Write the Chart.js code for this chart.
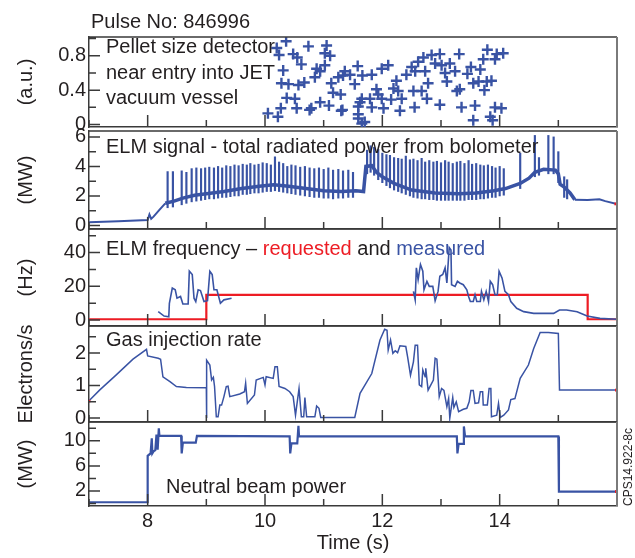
<!DOCTYPE html>
<html lang="en">
<head>
<meta charset="UTF-8">
<title>Pulse No: 846996</title>
<script src="https://cdn.jsdelivr.net/npm/chart.js"></script>
<style>
    body {
        margin: 0;
        background: #fff;
        font-family: 'Liberation Sans', Arial, Helvetica, sans-serif;
        color: #231f20;
    }
    #wrap {
        position: relative;
        width: 635px;
        height: 558px;
        overflow: hidden;
    }
    #wrap canvas {
        position: absolute;
        left: 0;
    }
    .txt {
        position: absolute;
        font-size: 20px;
        line-height: 24px;
        white-space: nowrap;
    }
</style>
</head>
<body>
<div id="wrap">
    <canvas id="c1" width="635" height="106" style="top:29px"></canvas>
    <canvas id="c2" width="635" height="106" style="top:127px"></canvas>
    <canvas id="c3" width="635" height="105" style="top:225px"></canvas>
    <canvas id="c4" width="635" height="104" style="top:322px"></canvas>
    <canvas id="c5" width="635" height="140" style="top:418px"></canvas>

    <div class="txt" style="left:91px;top:9px">Pulse No: 846996</div>
    <div class="txt" style="left:106px;top:34px;line-height:25.5px">Pellet size detector<br>near entry into JET<br>vacuum vessel</div>
    <div class="txt" style="left:106px;top:134px">ELM signal - total radiated power from bolometer</div>
    <div class="txt" style="left:106px;top:236px">ELM frequency – <span style="color:#ed1c24">requested</span> and <span style="color:#3953a4">measured</span></div>
    <div class="txt" style="left:106px;top:327px">Gas injection rate</div>
    <div class="txt" style="left:166px;top:474px">Neutral beam power</div>
    <div class="txt" style="left:628px;top:467px;font-size:12px;line-height:14px;transform:translate(-50%,-50%) rotate(-90deg)">CPS14.922-8c</div>
</div>

<script>
// ---- data ----
const xTickLabels = [8, 10, 12, 14];

const pelletT = [10.05, 10.22, 10.27, 10.37, 10.51, 10.54, 10.28, 10.40, 10.57, 10.67, 10.85, 10.88, 10.94, 11.02, 10.62, 10.48, 10.55, 10.36, 10.74, 11.05,
    11.02, 11.11, 10.20, 10.24, 10.31, 11.13, 11.16, 11.29, 10.79, 10.94, 11.09, 11.32, 11.25, 11.33, 11.36, 11.45, 11.53, 11.58, 11.66, 11.82,
    11.99, 12.10, 11.62, 11.59, 11.65, 11.79, 11.82, 11.59, 11.59, 11.70, 11.65, 11.90, 11.93, 11.99, 12.02, 12.15, 12.19, 12.27, 12.24, 12.33,
    12.30, 12.41, 12.50, 12.56, 12.61, 12.70, 12.73, 12.84, 12.98, 12.90, 12.53, 12.67, 12.76, 12.78, 12.55, 12.98, 13.01, 13.07, 13.10, 13.15,
    13.24, 13.31, 13.27, 13.32, 13.35, 13.45, 13.51, 13.55, 13.64, 13.67, 13.74, 13.78, 13.86, 13.72, 13.79, 13.95, 13.92, 13.58, 13.55, 13.84,
    13.88, 13.92, 14.03, 14.06, 10.76, 11.30];
const pelletSize = [0.13, 0.09, 0.19, 0.31, 0.30, 0.19, 0.48, 0.47, 0.46, 0.49, 0.55, 0.65, 0.62, 0.69, 0.70, 0.82, 0.78, 0.97, 0.91, 0.92,
    0.83, 0.80, 0.89, 0.81, 0.63, 0.48, 0.37, 0.35, 0.19, 0.26, 0.22, 0.17, 0.55, 0.57, 0.62, 0.58, 0.47, 0.68, 0.57, 0.58,
    0.65, 0.69, 0.26, 0.21, 0.30, 0.30, 0.20, 0.12, 0.07, 0.03, 0.01, 0.41, 0.35, 0.30, 0.19, 0.29, 0.42, 0.39, 0.51, 0.30,
    0.16, 0.58, 0.67, 0.62, 0.73, 0.78, 0.62, 0.81, 0.82, 0.71, 0.39, 0.39, 0.30, 0.48, 0.20, 0.23, 0.69, 0.60, 0.50, 0.71,
    0.62, 0.82, 0.39, 0.41, 0.20, 0.59, 0.67, 0.48, 0.50, 0.64, 0.40, 0.50, 0.51, 0.76, 0.87, 0.82, 0.76, 0.22, 0.05, 0.09,
    0.05, 0.20, 0.19, 0.83, 0.17, 0.16];

const elmBaseT = [7.00, 7.50, 8.00, 8.03, 8.06, 8.10, 8.20, 8.30, 8.45, 8.60, 8.80, 9.00, 9.30, 9.60, 9.90, 10.15, 10.40, 10.70, 11.00, 11.30,
    11.55, 11.68, 11.72, 11.82, 11.90, 12.00, 12.20, 12.50, 12.90, 13.30, 13.60, 13.90, 14.10, 14.35, 14.50, 14.60, 14.75, 14.95, 15.00, 15.03,
    15.10, 15.20, 15.28, 15.50, 15.70, 15.80, 16.00];
const elmBaseP = [0.22, 0.28, 0.37, 0.75, 0.45, 0.60, 1.05, 1.50, 1.65, 1.85, 2.05, 2.15, 2.30, 2.50, 2.65, 2.75, 2.65, 2.50, 2.35, 2.30,
    2.35, 2.30, 4.00, 4.05, 3.60, 3.30, 2.85, 2.40, 2.20, 2.15, 2.20, 2.35, 2.50, 2.85, 3.20, 3.60, 3.80, 3.75, 3.50, 2.80,
    2.60, 2.20, 1.75, 1.72, 1.78, 1.65, 1.45];

// ELM spikes: time, bottom and top of each burst
const elmSpikeT = [8.34, 8.43, 8.58, 8.66, 8.75, 8.83, 8.91, 8.98,
    9.05, 9.13, 9.20, 9.27, 9.34, 9.41, 9.48, 9.55, 9.62, 9.69, 9.75, 9.82, 9.89, 9.96,
    10.03, 10.10, 10.17, 10.24, 10.31, 10.38, 10.45, 10.52, 10.60, 10.68, 10.76, 10.84, 10.92, 11.00, 11.08, 11.16, 11.25, 11.33, 11.42, 11.50,
    11.74, 11.80, 11.86, 11.93,
    12.00, 12.07, 12.13, 12.20, 12.27, 12.33, 12.40, 12.47, 12.53, 12.60, 12.67, 12.73, 12.80, 12.87, 12.93,
    13.00, 13.07, 13.13, 13.20, 13.27, 13.33, 13.40, 13.47, 13.53, 13.60, 13.67, 13.73, 13.80, 13.87, 13.93,
    14.00, 14.07,
    14.35, 14.60, 14.67, 14.83, 14.92, 15.00, 15.10, 15.15];
const elmSpikeLo = [1.20, 1.25, 1.40, 1.50, 1.60, 1.65, 1.70, 1.75,
    1.80, 1.80, 1.85, 1.90, 1.90, 1.95, 2.00, 2.00, 2.10, 2.10, 2.15, 2.20, 2.20, 2.25,
    2.30, 2.30, 2.35, 2.30, 2.25, 2.20, 2.15, 2.10, 2.05, 2.00, 1.95, 1.90, 1.90, 1.85, 1.85, 1.80, 1.85, 1.85, 1.90, 1.90,
    3.50, 3.60, 3.40, 3.10,
    2.90, 2.70, 2.55, 2.40, 2.30, 2.20, 2.10, 2.00, 1.90, 1.85, 1.80, 1.80, 1.75, 1.75, 1.70,
    1.70, 1.70, 1.70, 1.70, 1.70, 1.70, 1.70, 1.75, 1.75, 1.75, 1.80, 1.80, 1.85, 1.90, 1.90,
    2.00, 2.05,
    2.50, 3.30, 3.40, 3.50, 3.50, 2.90, 1.90, 1.80];
const elmSpikeHi = [3.65, 3.65, 3.70, 3.60, 3.85, 3.90, 3.85, 3.90,
    3.95, 3.90, 4.00, 3.90, 4.05, 4.00, 4.10, 4.05, 4.15, 4.10, 4.20, 4.10, 4.15, 4.25,
    4.20, 4.10, 4.65, 4.30, 4.20, 4.00, 4.10, 4.05, 3.95, 4.00, 3.90, 3.85, 3.90, 3.80, 3.90, 3.75, 3.80, 3.70, 3.75, 3.60,
    5.10, 5.40, 5.30, 5.15,
    4.90, 4.80, 4.75, 4.60, 4.55, 4.50, 4.70, 4.45, 4.50, 4.40, 4.55, 4.30, 4.40, 4.30, 4.35,
    4.25, 4.40, 4.30, 4.20, 4.30, 4.35, 4.20, 4.40, 4.15, 4.20, 4.10, 4.05, 4.10, 4.00, 3.90,
    4.00, 3.85,
    4.90, 6.10, 4.60, 6.10, 6.00, 5.00, 3.30, 3.10];

const reqT = [7.0, 9.0, 9.0, 15.5, 15.5, 16.0];
const reqF = [0.5, 0.5, 15, 15, 0.5, 0.5];

const measT = [8.18, 8.28, 8.36, 8.37, 8.42, 8.47, 8.50, 8.56, 8.60, 8.69, 8.71, 8.76, 8.79, 8.82, 8.86, 8.90, 8.96, 9.02, 9.06, 9.10,
    9.13, 9.18, 9.24, 9.30, 9.43,
    11.00,
    12.53, 12.56, 12.58, 12.61, 12.65, 12.69, 12.71, 12.76, 12.80, 12.86, 12.90, 12.95, 12.98, 13.03, 13.07, 13.10, 13.14, 13.17, 13.18, 13.24,
    13.28, 13.32, 13.38, 13.44, 13.47, 13.50, 13.55, 13.58, 13.61, 13.67, 13.69, 13.73, 13.77, 13.81, 13.84, 13.88, 13.92, 13.96, 13.99, 14.04,
    14.09, 14.15, 14.19, 14.29, 14.41, 14.58, 14.92, 15.02, 15.14, 15.32, 15.49, 15.71, 16.00];
const measF = [5, 2.4, 2, 10, 19, 18, 13, 14, 9.5, 9.5, 29, 27, 13, 11, 18, 17.5, 11, 11.5, 29, 27,
    18, 18, 10, 12, 13,
    null,
    17, 12, 31, 24, 33, 29, 18, 23, 20, 20, 11.4, 17, 26, 27, 31, 22, 43, 41.5, 21, 20,
    23, 22, 21, 18, 14, 11, 11, 15, 11, 11, 17, 12, 17, 11, 23, 21, 15, 15, 29, 25,
    17, 15, 11, 7, 5, 4, 4, 6, 6, 5, 2.4, 1, 0.5];

const gasT = [7.00, 7.18, 7.46, 7.75, 7.98, 8.00, 8.18, 8.22, 8.26, 8.38, 8.49, 8.66, 9.00,
    9.00, 9.01, 9.06, 9.09, 9.12, 9.14, 9.17, 9.20, 9.23, 9.26, 9.30, 9.34, 9.37, 9.40,
    9.57, 9.65, 9.67, 9.70, 9.82, 9.85, 9.97, 10.00, 10.02, 10.14, 10.17, 10.21, 10.24, 10.34, 10.42, 10.48,
    10.52, 10.58, 10.62, 10.66, 10.68, 10.71, 10.85, 10.88, 10.92, 10.95, 11.28, 11.53,
    11.62, 11.82, 11.96, 12.04, 12.08, 12.10, 12.14, 12.18, 12.22, 12.26, 12.30, 12.40,
    12.43, 12.48, 12.53, 12.56, 12.60, 12.63, 12.67, 12.69, 12.73, 12.74, 12.78, 12.87,
    12.90, 12.93, 12.97, 13.01, 13.05, 13.10, 13.13, 13.15, 13.20, 13.22, 13.26, 13.30,
    13.38, 13.44, 13.48, 13.51, 13.55, 13.58, 13.64, 13.67, 13.71, 13.72, 13.79, 13.82,
    13.85, 13.86, 13.95, 13.98, 14.01, 14.07, 14.15, 14.19, 14.26, 14.35, 14.49, 14.58,
    14.69, 14.83, 15.00, 15.02, 16.00];
const gasRate = [0.53, 0.86, 1.32, 1.81, 2.11, 1.91, 1.84, 1.81, 1.27, 1.12, 0.97, 0.94, 0.93,
    0.00, 1.78, 1.63, 1.17, 1.25, 0.97, 0.04, 0.04, 0.40, 0.40, 0.66, 0.97, 0.98, 0.66,
    0.74, 0.81, 1.07, 0.45, 0.71, 1.17, 1.25, 1.02, 1.27, 1.22, 1.58, 1.58, 0.97, 0.91, 0.81, 0.66,
    0.09, 0.91, 0.04, 0.04, 0.63, 0.04, 0.04, 0.37, 0.30, 0.02, 0.02, 0.02,
    0.76, 1.37, 2.40, 2.73, 2.70, 2.09, 2.40, 1.99, 2.07, 2.01, 2.22, 2.20,
    1.89, 1.32, 1.73, 2.24, 2.24, 1.02, 0.97, 1.48, 1.27, 1.53, 0.86, 1.17,
    1.84, 1.81, 0.66, 0.91, 0.85, 0.35, 0.60, 0.00, 0.63, 0.33, 0.50, 0.20,
    0.27, 0.30, 0.50, 0.85, 0.85, 0.45, 0.47, 0.81, 0.81, 0.40, 0.40, 0.91,
    0.91, 0.04, 0.09, 0.45, 0.02, 0.09, 0.25, 0.57, 0.60, 1.22, 1.63, 2.14,
    2.63, 2.63, 2.60, 0.86, 0.86];

const nbiT = [7.00, 8.00, 8.00, 8.05, 8.07, 8.08, 8.10, 8.13, 8.15, 8.17, 8.19, 8.20, 8.22, 8.57, 8.58, 8.60, 8.82, 8.84,
    10.42, 10.43, 10.45, 10.55, 10.57, 10.58, 13.27, 13.28, 13.30, 13.38, 13.39, 13.41, 15.00, 15.01, 16.00];
const nbiP = [0.2, 0.2, 7.6, 8.0, 10.4, 8.0, 8.3, 8.5, 11.0, 8.6, 12.0, 10.8, 10.8, 10.8, 8.0, 9.7, 9.7, 10.8,
    10.7, 8.0, 9.6, 9.6, 12.4, 10.7, 10.7, 8.0, 9.5, 9.5, 12.3, 10.7, 10.7, 1.9, 1.9];

// small red marks at the ends of some traces
const elmEndT = [15.98], elmEndP = [1.46];
const gasEndT = [7.0, 15.99], gasEndR = [0.52, 0.86];
const nbiEndT = [15.99], nbiEndP = [1.9];

// ---- drawing ----
const blue = '#3953a4';
const red = '#ed1c24';
const ink = '#231f20';
const axisCol = '#3a3a3a';
const fam = "'Liberation Sans', Arial, Helvetica, sans-serif";

Chart.defaults.font.family = fam;

function pts(ts, vs) {
    return ts.map((t, i) => ({ x: t, y: vs[i] }));
}

function endMarks(ts, vs) {
    return {
        data: pts(ts, vs),
        showLine: false,
        pointStyle: 'rect',
        pointRadius: 2,
        pointBorderWidth: 0,
        pointBackgroundColor: red
    };
}

// box edges (top, right) and the inward tick marks, long where a label sits
const framePlugin = {
    id: 'frame',
    afterDraw(chart) {
        const { ctx, chartArea: a, scales } = chart;
        const yLabels = chart.options.scales.y.majorAt;
        ctx.save();
        ctx.strokeStyle = axisCol;
        ctx.lineWidth = 1.5;
        ctx.beginPath();
        ctx.moveTo(a.left, a.top);
        ctx.lineTo(a.right, a.top);
        scales.x.ticks.forEach(t => {
            const px = scales.x.getPixelForValue(t.value);
            const len = t.value % 2 === 0 ? 12 : 7;
            ctx.moveTo(px, a.bottom);
            ctx.lineTo(px, a.bottom - len);
        });
        scales.y.ticks.forEach(t => {
            const py = scales.y.getPixelForValue(t.value);
            const len = yLabels.some(l => Math.abs(l - t.value) < 1e-6) ? 11 : 7;
            ctx.moveTo(a.left, py);
            ctx.lineTo(a.left + len, py);
        });
        ctx.stroke();
        ctx.strokeStyle = '#7a7a7a';
        ctx.lineWidth = 2;
        ctx.beginPath();
        ctx.moveTo(a.right, a.top);
        ctx.lineTo(a.right, a.bottom);
        ctx.stroke();
        ctx.restore();
    }
};

function panel(id, o) {
    const last = !!o.last;
    return new Chart(document.getElementById(id), {
        type: 'line',
        data: { datasets: o.datasets },
        options: {
            responsive: false,
            animation: false,
            events: [],
            layout: { padding: { top: 4, bottom: last ? 0 : 4, left: 0, right: 18 } },
            plugins: { legend: { display: false }, tooltip: { enabled: false } },
            elements: {
                line: { tension: 0, borderWidth: 1.5 },
                point: { radius: 0 }
            },
            scales: {
                x: {
                    type: 'linear',
                    min: 7,
                    max: 16,
                    offset: false,
                    border: { color: axisCol, width: 1.5 },
                    grid: { drawOnChartArea: false, drawTicks: false, offset: false },
                    ticks: {
                        stepSize: 1,
                        display: last,
                        includeBounds: false,
                        autoSkip: false,
                        maxRotation: 0,
                        padding: 3,
                        color: ink,
                        font: { size: 20 },
                        callback: v => xTickLabels.includes(v) ? String(v) : ''
                    },
                    title: {
                        display: last,
                        text: 'Time (s)',
                        color: ink,
                        font: { size: 20 },
                        padding: { top: 0, bottom: 3 }
                    },
                    afterFit: s => {
                        s.height = last ? 52 : 0;
                        s.paddingLeft = 0;
                        s.paddingRight = 0;
                    }
                },
                y: {
                    min: o.min,
                    max: o.max,
                    majorAt: o.labels,
                    border: { color: axisCol, width: 1.5 },
                    grid: { drawOnChartArea: false, drawTicks: false },
                    ticks: {
                        stepSize: o.step,
                        includeBounds: false,
                        autoSkip: false,
                        padding: 3,
                        color: ink,
                        font: { size: 20 },
                        callback: v => {
                            const hit = o.labels.find(l => Math.abs(l - v) < 1e-6);
                            return hit === undefined ? '' : String(hit);
                        }
                    },
                    title: {
                        display: true,
                        text: o.title,
                        color: ink,
                        font: { size: 20 },
                        padding: { top: 14, bottom: 0 }
                    },
                    afterFit: s => {
                        s.width = 89;
                        s.paddingTop = 0;
                        s.paddingBottom = 0;
                    }
                }
            }
        },
        plugins: [framePlugin]
    });
}

panel('c1', {
    min: -0.03, max: 1.02, step: 0.2, labels: [0, 0.4, 0.8], title: '(a.u.)',
    datasets: [{
        data: pts(pelletT, pelletSize),
        showLine: false,
        pointStyle: 'cross',
        pointRadius: 5.5,
        pointBorderWidth: 2.4,
        pointBorderColor: blue,
        pointBackgroundColor: blue
    }]
});

panel('c2', {
    min: -0.24, max: 6.4, step: 1, labels: [0, 2, 4, 6], title: '(MW)',
    datasets: [endMarks(elmEndT, elmEndP), {
        data: pts(elmBaseT, elmBaseP),
        borderColor: blue,
        borderWidth: 3.5,
        // the trace is a noisy band only while ELMs are present
        segment: {
            borderWidth: c => (c.p0.parsed.x < 8.3 || c.p0.parsed.x >= 15.28) ? 2 : 3.5
        }
    }, {
        type: 'bar',
        data: elmSpikeT.map((t, i) => ({ x: t, y: [elmSpikeLo[i], elmSpikeHi[i]] })),
        backgroundColor: blue,
        borderWidth: 0,
        barThickness: 1.5
    }]
});

panel('c3', {
    min: -3.5, max: 54, step: 10, labels: [0, 20, 40], title: '(Hz)',
    datasets: [{
        data: pts(measT, measF),
        borderColor: blue,
        borderWidth: 1.6,
        spanGaps: false
    }, {
        data: pts(reqT, reqF),
        borderColor: red,
        borderWidth: 2.2
    }]
});

panel('c4', {
    min: -0.12, max: 2.83, step: 0.5, labels: [0, 1, 2], title: 'Electrons/s',
    datasets: [endMarks(gasEndT, gasEndR), {
        data: pts(gasT, gasRate),
        borderColor: blue,
        borderWidth: 1.5
    }]
});

panel('c5', {
    min: -0.4, max: 13, step: 2, labels: [2, 6, 10], title: '(MW)', last: true,
    datasets: [endMarks(nbiEndT, nbiEndP), {
        data: pts(nbiT, nbiP),
        borderColor: blue,
        borderWidth: 2.2
    }]
});
</script>
</body>
</html>
